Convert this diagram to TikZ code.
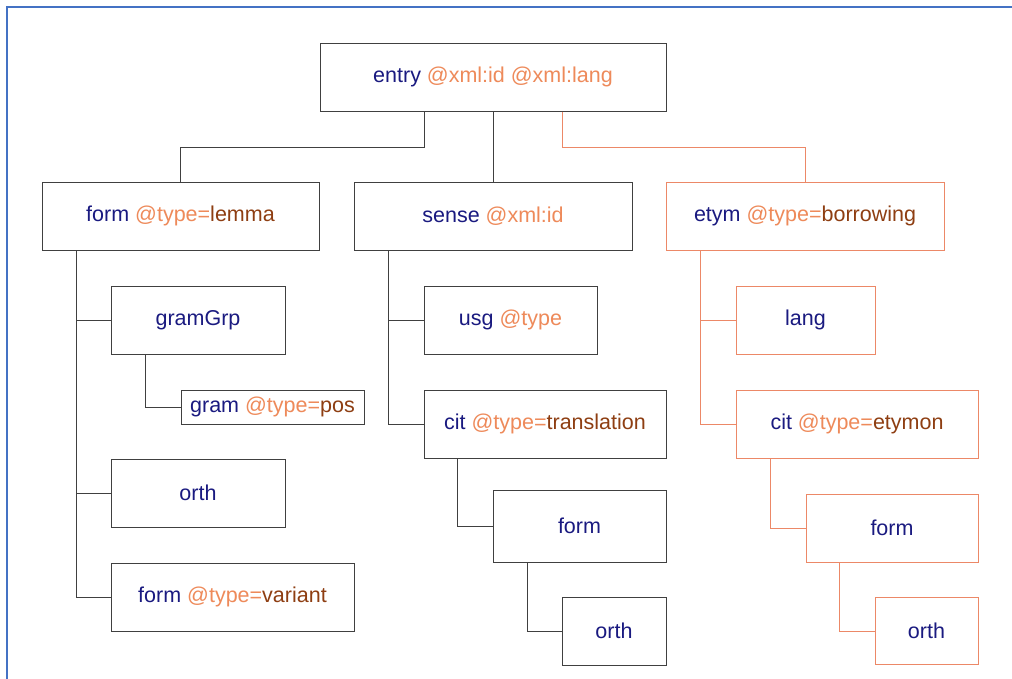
\documentclass[tikz,border=0pt]{standalone}
\usepackage{fontspec}
\setmainfont{Liberation Sans}
\definecolor{elc}{HTML}{1A1A80}
\definecolor{atc}{HTML}{EE8A5A}
\definecolor{vlc}{HTML}{8E3E12}
\definecolor{orb}{HTML}{EC8867}
\definecolor{grb}{HTML}{404040}
\definecolor{frm}{HTML}{4472C4}
\newcommand\xel[1]{\textcolor{elc}{#1}}
\newcommand\xat[1]{\textcolor{atc}{#1}}
\newcommand\xval[1]{\textcolor{vlc}{#1}}
\begin{document}
\begin{tikzpicture}[x=1pt,y=-1pt,
  box/.style={draw=grb,line width=1pt,fill=white,inner sep=0pt,font=\fontsize{21.5}{26}\selectfont},
  obox/.style={box,draw=orb},
  link/.style={draw=grb,line width=0.9pt},
  olink/.style={draw=orb,line width=0.9pt}]
\useasboundingbox (0,0) rectangle (1012,678);
\draw[frm,line width=2.5pt] (7,680) -- (7,7) -- (1014,7);

\node[box,minimum width=346pt,minimum height=68pt] (entry) at (493,77) {\xel{entry} \xat{@xml:id @xml:lang}};
\node[box,minimum width=277pt,minimum height=68pt] (formA) at (180.5,216) {\xel{form} \xat{@type=}\xval{lemma}};
\node[box,minimum width=278pt,minimum height=68pt] (sense) at (493,216) {\xel{sense} \xat{@xml:id}};
\node[obox,minimum width=278pt,minimum height=68pt] (etym) at (805,216) {\xel{etym} \xat{@type=}\xval{borrowing}};

\node[box,minimum width=174pt,minimum height=68pt] (gramGrp) at (198,320) {\xel{gramGrp}};
\node[box,minimum width=183pt,minimum height=34pt] (gram) at (272.5,407) {\xel{gram} \xat{@type=}\xval{pos}};
\node[box,minimum width=174pt,minimum height=68pt] (orthA) at (198,493) {\xel{orth}};
\node[box,minimum width=243pt,minimum height=68pt] (formV) at (232.5,597) {\xel{form} \xat{@type=}\xval{variant}};

\node[box,minimum width=173pt,minimum height=68pt] (usg) at (510.5,320) {\xel{usg} \xat{@type}};
\node[box,minimum width=242pt,minimum height=68pt] (citT) at (545,424) {\xel{cit} \xat{@type=}\xval{translation}};
\node[box,minimum width=173pt,minimum height=72pt] (formM) at (579.5,526) {\xel{form}};
\node[box,minimum width=104pt,minimum height=68pt] (orthM) at (614,631) {\xel{orth}};

\node[obox,minimum width=139pt,minimum height=68pt] (lang) at (805.5,320) {\xel{lang}};
\node[obox,minimum width=242pt,minimum height=68pt] (citE) at (857,424) {\xel{cit} \xat{@type=}\xval{etymon}};
\node[obox,minimum width=172pt,minimum height=68pt] (formR) at (892,528) {\xel{form}};
\node[obox,minimum width=103pt,minimum height=67pt] (orthR) at (926.5,631) {\xel{orth}};

\draw[link] ([xshift=-69pt]entry.south) -- ++(0,36) -| (formA.north);
\draw[link] (entry.south) -- (sense.north);
\draw[olink] ([xshift=69pt]entry.south) -- ++(0,36) -| (etym.north);

\draw[link] ([xshift=35pt]formA.south west) |- (gramGrp.west);
\draw[link] ([xshift=35pt]formA.south west) |- (orthA.west);
\draw[link] ([xshift=35pt]formA.south west) |- (formV.west);
\draw[link] ([xshift=35pt]gramGrp.south west) |- (gram.west);

\draw[link] ([xshift=35pt]sense.south west) |- (usg.west);
\draw[link] ([xshift=35pt]sense.south west) |- (citT.west);
\draw[link] ([xshift=34pt]citT.south west) |- (formM.west);
\draw[link] ([xshift=35pt]formM.south west) |- (orthM.west);

\draw[olink] ([xshift=35pt]etym.south west) |- (lang.west);
\draw[olink] ([xshift=35pt]etym.south west) |- (citE.west);
\draw[olink] ([xshift=35pt]citE.south west) |- (formR.west);
\draw[olink] ([xshift=34pt]formR.south west) |- (orthR.west);
\end{tikzpicture}
\end{document}
